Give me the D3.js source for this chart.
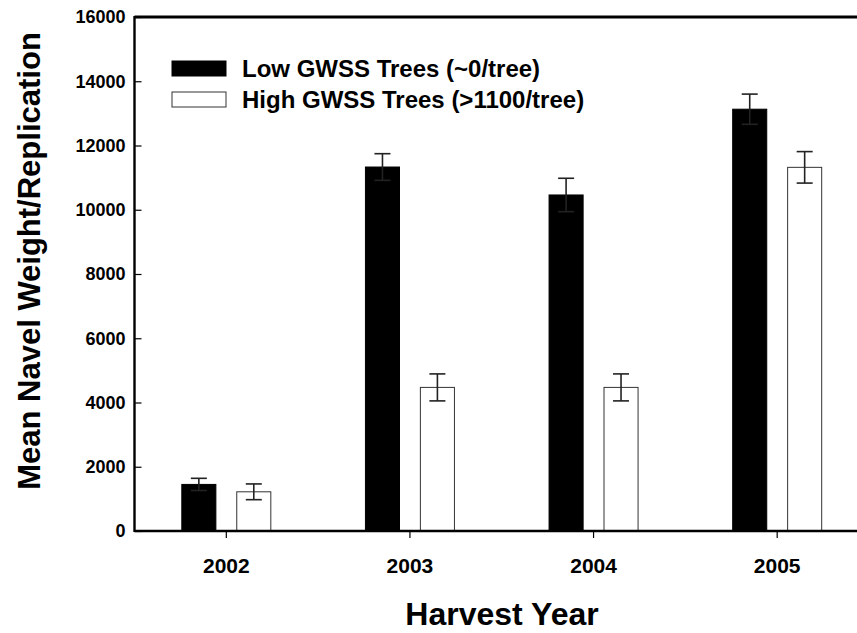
<!DOCTYPE html>
<html>
<head>
<meta charset="utf-8">
<script src="https://cdn.jsdelivr.net/npm/d3@7"></script>
<style>
  body { margin: 0; background: #fff; }
  text { font-family: Arial, "Liberation Sans", sans-serif; font-weight: bold; fill: #000; }
</style>
</head>
<body>
<div id="chart"></div>
<script>
const years = ['2002', '2003', '2004', '2005'];
const series = ['Low GWSS Trees (~0/tree)', 'High GWSS Trees (>1100/tree)'];
const low_mean = [1450, 11330, 10460, 13130];
const low_err = [190, 415, 520, 470];
const high_mean = [1220, 4470, 4470, 11320];
const high_err = [245, 420, 420, 490];
const y_ticks = [0, 2000, 4000, 6000, 8000, 10000, 12000, 14000, 16000];

const WIDTH = 857, HEIGHT = 633;
const MARGIN = { LEFT: 134.5, RIGHT: -12, TOP: 17, BOTTOM: 102 };

let svg = d3.select('#chart').append('svg')
    .attr('width', WIDTH)
    .attr('height', HEIGHT);

let x = d3.scaleBand().domain(years)
    .range([MARGIN.LEFT, WIDTH - MARGIN.RIGHT]);
let xSub = d3.scaleBand().domain([0, 1])
    .range([-44.5, 44.5]).paddingInner(0.38);
let y = d3.scaleLinear().domain([0, 16000])
    .range([HEIGHT - MARGIN.BOTTOM, MARGIN.TOP]);

let data = [];
years.forEach((yr, i) => {
    data.push({ year: yr, s: 0, v: low_mean[i], e: low_err[i] });
    data.push({ year: yr, s: 1, v: high_mean[i], e: high_err[i] });
});

// bars
let bars = svg.append('g').selectAll('g')
    .data(data)
    .enter()
    .append('g');

bars.append('rect')
    .attr('x', d => x(d.year) + x.bandwidth() / 2 + xSub(d.s))
    .attr('y', d => y(d.v))
    .attr('width', xSub.bandwidth())
    .attr('height', d => y(0) - y(d.v))
    .attr('fill', d => d.s == 0 ? '#000' : '#fff')
    .attr('stroke', d => d.s == 0 ? '#000' : '#333')
    .attr('stroke-width', 1);

// error bars
let cx = d => x(d.year) + x.bandwidth() / 2 + xSub(d.s) + xSub.bandwidth() / 2;
bars.append('line')
    .attr('x1', cx).attr('x2', cx)
    .attr('y1', d => y(d.v - d.e)).attr('y2', d => y(d.v + d.e))
    .attr('stroke', '#222').attr('stroke-width', 1.6);
bars.append('line')
    .attr('x1', d => cx(d) - 8).attr('x2', d => cx(d) + 8)
    .attr('y1', d => y(d.v + d.e)).attr('y2', d => y(d.v + d.e))
    .attr('stroke', '#222').attr('stroke-width', 1.6);
bars.append('line')
    .attr('x1', d => cx(d) - 8).attr('x2', d => cx(d) + 8)
    .attr('y1', d => y(d.v - d.e)).attr('y2', d => y(d.v - d.e))
    .attr('stroke', '#222').attr('stroke-width', 1.6);

// y axis (ticks inward)
let yAxis = svg.append('g')
    .attr('transform', `translate(${MARGIN.LEFT},0)`)
    .call(d3.axisRight(y).tickValues(y_ticks).tickSize(7).tickFormat(''));
yAxis.select('.domain').remove();
yAxis.selectAll('.tick line').attr('stroke', '#000').attr('stroke-width', 1.2);
svg.append('g').selectAll('text')
    .data(y_ticks)
    .enter()
    .append('text')
    .attr('x', MARGIN.LEFT - 9)
    .attr('y', d => y(d))
    .attr('dy', '0.36em')
    .attr('text-anchor', 'end')
    .style('font-size', '18px')
    .text(d => d);

// x axis (ticks outward)
let xAxis = svg.append('g')
    .attr('transform', `translate(0,${y(0)})`)
    .call(d3.axisBottom(x).tickSize(7).tickFormat(''));
xAxis.select('.domain').remove();
xAxis.selectAll('.tick line').attr('stroke', '#000').attr('stroke-width', 1.2);
svg.append('g').selectAll('text')
    .data(years)
    .enter()
    .append('text')
    .attr('x', d => x(d) + x.bandwidth() / 2)
    .attr('y', 573)
    .attr('text-anchor', 'middle')
    .style('font-size', '21px')
    .text(d => d);

// frame lines: left, bottom, top
svg.append('line')
    .attr('x1', MARGIN.LEFT).attr('x2', MARGIN.LEFT)
    .attr('y1', y(16000) - 1).attr('y2', y(0) + 1)
    .attr('stroke', '#000').attr('stroke-width', 2.4);
svg.append('line')
    .attr('x1', MARGIN.LEFT).attr('x2', WIDTH)
    .attr('y1', y(0)).attr('y2', y(0))
    .attr('stroke', '#000').attr('stroke-width', 2.4);
svg.append('line')
    .attr('x1', MARGIN.LEFT).attr('x2', WIDTH)
    .attr('y1', y(16000)).attr('y2', y(16000))
    .attr('stroke', '#000').attr('stroke-width', 2.8);

// legend
let legend = svg.append('g').selectAll('g')
    .data(series)
    .enter()
    .append('g')
    .attr('transform', (d, i) => `translate(172,${61 + i * 31})`);
legend.append('rect')
    .attr('width', 54).attr('height', 15)
    .attr('fill', (d, i) => i == 0 ? '#000' : '#fff')
    .attr('stroke', (d, i) => i == 0 ? '#000' : '#333')
    .attr('stroke-width', 1);
legend.append('text')
    .attr('x', 70)
    .attr('y', 16)
    .style('font-size', '24px')
    .text(d => d);

// axis titles
svg.append('text')
    .attr('transform', 'translate(40,261) rotate(-90)')
    .attr('text-anchor', 'middle')
    .style('font-size', '31px')
    .text('Mean Navel Weight/Replication');
svg.append('text')
    .attr('x', 502)
    .attr('y', 625)
    .attr('text-anchor', 'middle')
    .style('font-size', '32px')
    .text('Harvest Year');
</script>
</body>
</html>
